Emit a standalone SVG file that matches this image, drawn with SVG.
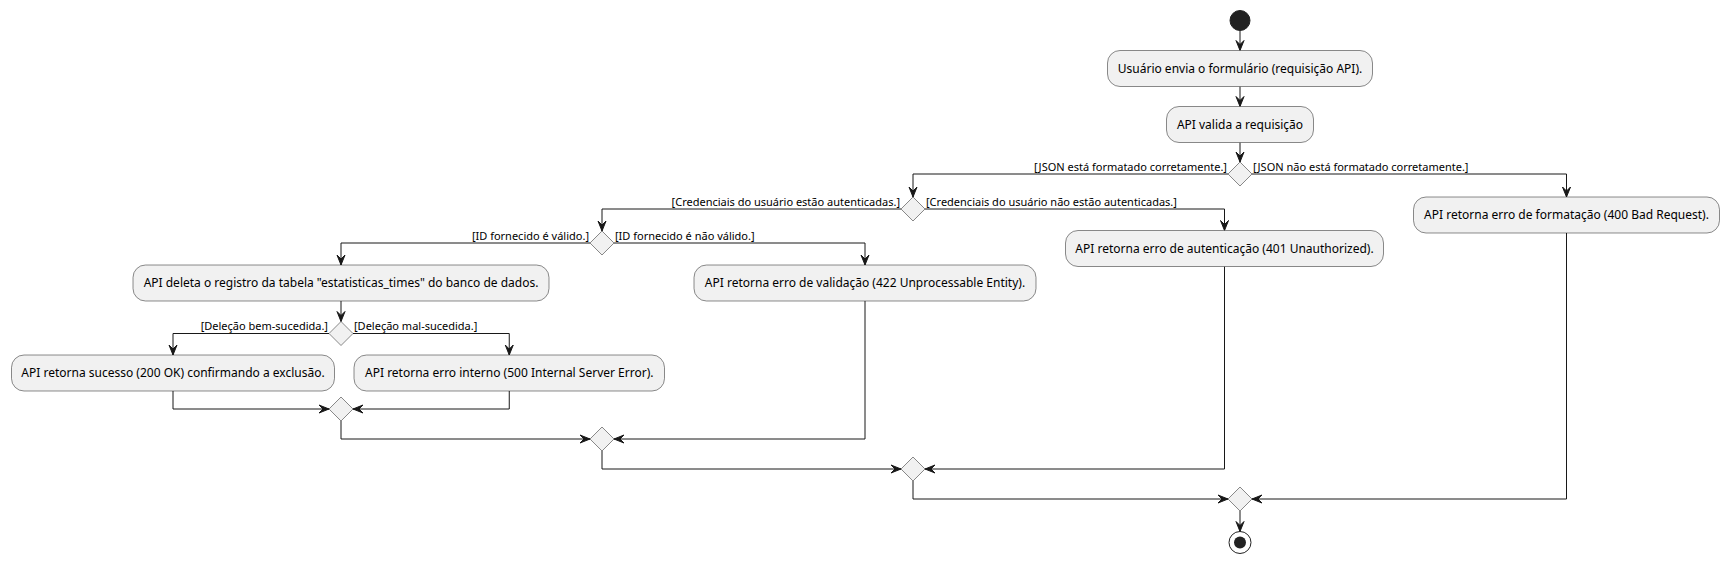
<svg xmlns="http://www.w3.org/2000/svg" width="1729" height="563" viewBox="0 0 1729 563">
<style>
.box{fill:#F1F1F1;stroke:#181818;stroke-width:0.5}
.dia{fill:#F1F1F1;stroke:#181818;stroke-width:0.5}
.t{font-family:"Noto Sans","Open Sans","DejaVu Sans",sans-serif;font-size:12px;fill:#000;text-anchor:middle}
.l{font-family:"Noto Sans","Open Sans","DejaVu Sans",sans-serif;font-size:11px;fill:#000}
.e{text-anchor:end}
.ln{fill:none;stroke:#181818;stroke-width:1}
.ah{fill:#181818;stroke:#181818;stroke-width:1}
</style>
<defs>
<polygon id="ad" points="-4,-10 0,0 4,-10 0,-6"/>
<polygon id="ar" points="-10,-4 0,0 -10,4 -6,0"/>
<polygon id="al" points="10,-4 0,0 10,4 6,0"/>
</defs>
<rect width="1729" height="563" fill="#FFFFFF"/>

<g id="connectors">
<path class="ln" d="M1240,30.5 V50.5"/><use href="#ad" class="ah" x="1240" y="50.5"/>
<path class="ln" d="M1240,86.5 V106.5"/><use href="#ad" class="ah" x="1240" y="106.5"/>
<path class="ln" d="M1240,142.5 V162"/><use href="#ad" class="ah" x="1240" y="162"/>
<path class="ln" d="M1228,174 H913 V197"/><use href="#ad" class="ah" x="913" y="197"/>
<path class="ln" d="M1252,174 H1566.5 V197"/><use href="#ad" class="ah" x="1566.5" y="197"/>
<path class="ln" d="M901,209 H602 V231"/><use href="#ad" class="ah" x="602" y="231"/>
<path class="ln" d="M925,209 H1224.5 V230.5"/><use href="#ad" class="ah" x="1224.5" y="230.5"/>
<path class="ln" d="M590,243 H341 V265"/><use href="#ad" class="ah" x="341" y="265"/>
<path class="ln" d="M614,243 H865 V265"/><use href="#ad" class="ah" x="865" y="265"/>
<path class="ln" d="M341,301 V321.5"/><use href="#ad" class="ah" x="341" y="321.5"/>
<path class="ln" d="M329,333.5 H173 V355"/><use href="#ad" class="ah" x="173" y="355"/>
<path class="ln" d="M353,333.5 H509.25 V355"/><use href="#ad" class="ah" x="509.25" y="355"/>
<path class="ln" d="M173,391 V409 H329"/><use href="#ar" class="ah" x="329" y="409"/>
<path class="ln" d="M509.25,391 V409 H353"/><use href="#al" class="ah" x="353" y="409"/>
<path class="ln" d="M341,421 V439 H590"/><use href="#ar" class="ah" x="590" y="439"/>
<path class="ln" d="M865,301 V439 H614"/><use href="#al" class="ah" x="614" y="439"/>
<path class="ln" d="M602,451 V469 H901"/><use href="#ar" class="ah" x="901" y="469"/>
<path class="ln" d="M1224.5,266.5 V469 H925"/><use href="#al" class="ah" x="925" y="469"/>
<path class="ln" d="M913,481 V499 H1228"/><use href="#ar" class="ah" x="1228" y="499"/>
<path class="ln" d="M1566.5,233 V499 H1252"/><use href="#al" class="ah" x="1252" y="499"/>
<path class="ln" d="M1240,511 V531.5"/><use href="#ad" class="ah" x="1240" y="531.5"/>
<text class="l e" x="1227" y="170.5">[JSON está formatado corretamente.]</text>
<text class="l" x="1253" y="170.5">[JSON não está formatado corretamente.]</text>
<text class="l e" x="900" y="205.5">[Credenciais do usuário estão autenticadas.]</text>
<text class="l" x="926" y="205.5">[Credenciais do usuário não estão autenticadas.]</text>
<text class="l e" x="589" y="239.5">[ID fornecido é válido.]</text>
<text class="l" x="615" y="239.5">[ID fornecido é não válido.]</text>
<text class="l e" x="328" y="330">[Deleção bem-sucedida.]</text>
<text class="l" x="354" y="330">[Deleção mal-sucedida.]</text>
</g>

<g id="start"><circle cx="1240" cy="20.5" r="10" fill="#222222" stroke="#222222" stroke-width="1"/></g>

<g id="n1"><rect class="box" x="1107.5" y="50.5" width="265" height="36" rx="12.5"/><text class="t" x="1240" y="72.5">Usuário envia o formulário (requisição API).</text></g>
<g id="n2"><rect class="box" x="1166.5" y="106.5" width="147" height="36" rx="12.5"/><text class="t" x="1240" y="128.5">API valida a requisição</text></g>

<g id="d_json"><polygon class="dia" points="1240,162 1252,174 1240,186 1228,174"/></g>
<g id="n400"><rect class="box" x="1413.5" y="197" width="306" height="36" rx="12.5"/><text class="t" x="1566.5" y="219">API retorna erro de formatação (400 Bad Request).</text></g>

<g id="d_cred"><polygon class="dia" points="913,197 925,209 913,221 901,209"/></g>
<g id="n401"><rect class="box" x="1065.5" y="230.5" width="318" height="36" rx="12.5"/><text class="t" x="1224.5" y="252.5">API retorna erro de autenticação (401 Unauthorized).</text></g>

<g id="d_id"><polygon class="dia" points="602,231 614,243 602,255 590,243"/></g>
<g id="n422"><rect class="box" x="694" y="265" width="342" height="36" rx="12.5"/><text class="t" x="865" y="287">API retorna erro de validação (422 Unprocessable Entity).</text></g>

<g id="n_del"><rect class="box" x="133" y="265" width="416" height="36" rx="12.5"/><text class="t" x="341" y="287">API deleta o registro da tabela "estatisticas_times" do banco de dados.</text></g>

<g id="d_del"><polygon class="dia" points="341,321.5 353,333.5 341,345.5 329,333.5"/></g>
<g id="n200"><rect class="box" x="11.5" y="355" width="323" height="36" rx="12.5"/><text class="t" x="173" y="377">API retorna sucesso (200 OK) confirmando a exclusão.</text></g>
<g id="n500"><rect class="box" x="354" y="355" width="310.5" height="36" rx="12.5"/><text class="t" x="509.25" y="377">API retorna erro interno (500 Internal Server Error).</text></g>

<g id="m_del"><polygon class="dia" points="341,397 353,409 341,421 329,409"/></g>
<g id="m_id"><polygon class="dia" points="602,427 614,439 602,451 590,439"/></g>
<g id="m_cred"><polygon class="dia" points="913,457 925,469 913,481 901,469"/></g>
<g id="m_json"><polygon class="dia" points="1240,487 1252,499 1240,511 1228,499"/></g>

<g id="end"><circle cx="1240" cy="542.5" r="11" fill="none" stroke="#222222" stroke-width="1"/><circle cx="1240" cy="542.5" r="6" fill="#222222"/></g>
</svg>
